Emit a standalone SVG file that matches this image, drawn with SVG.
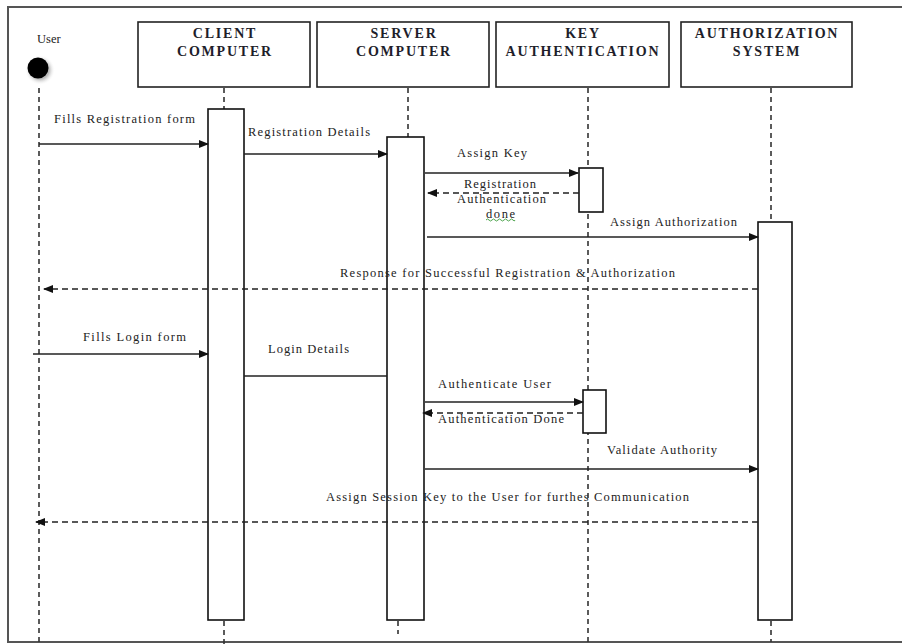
<svg xmlns="http://www.w3.org/2000/svg" width="902" height="644" viewBox="0 0 902 644">
  <defs>
    <marker id="head" markerWidth="10" markerHeight="8" refX="9" refY="4" orient="auto" markerUnits="userSpaceOnUse">
      <path d="M0,0 L10,4 L0,8 Z" fill="#111"/>
    </marker>
    <radialGradient id="halo" cx="0.5" cy="0.5" r="0.5">
      <stop offset="0.6" stop-color="#bbb"/>
      <stop offset="1" stop-color="#fff" stop-opacity="0"/>
    </radialGradient>
    <style>
      .frame { fill: none; stroke: #555; stroke-width: 2; }
      .head { fill: #fff; stroke: #222; stroke-width: 1.6; }
      .title { font-family: "Liberation Serif", "Times New Roman", serif; font-weight: bold; font-size: 14px; letter-spacing: 1.8px; fill: #1e1e2a; text-anchor: middle; }
      .label { font-family: "Liberation Serif", "Times New Roman", serif; font-size: 12.5px; fill: #222; }
      .life { stroke: #333; stroke-width: 1.6; stroke-dasharray: 5 4; fill: none; }
      .act { fill: #fff; stroke: #111; stroke-width: 1.6; }
      .call { stroke: #222; stroke-width: 1.4; fill: none; }
      .reply { stroke: #222; stroke-width: 1.4; stroke-dasharray: 6 4; fill: none; }
    </style>
  </defs>

  <rect width="902" height="644" fill="#fff"/>
  <!-- outer frame -->
  <path class="frame" d="M904,7 H8 V642 H904"/>

  <!-- lifelines -->
  <g id="lifelines">
    <line class="life" x1="39" y1="88" x2="39" y2="642"/>
    <line class="life" x1="224" y1="88" x2="224" y2="109"/>
    <line class="life" x1="224" y1="621" x2="224" y2="644"/>
    <line class="life" x1="408" y1="88" x2="408" y2="137"/>
    <line class="life" x1="398" y1="621" x2="398" y2="634"/>
    <line class="life" x1="588" y1="88" x2="588" y2="642"/>
    <line class="life" x1="771" y1="88" x2="771" y2="222"/>
    <line class="life" x1="771" y1="621" x2="771" y2="642"/>
  </g>

  <!-- actor: User -->
  <g id="user">
    <text class="label" x="37" y="43" font-size="11.5">User</text>
    <circle cx="40" cy="70" r="15" fill="url(#halo)"/>
    <circle cx="38" cy="68" r="10.5" fill="#000"/>
  </g>

  <g id="client-computer">
    <rect class="head" x="138" y="22" width="172" height="65"/>
    <text class="title" x="225" y="38">CLIENT</text>
    <text class="title" x="225" y="56">COMPUTER</text>
    <rect class="act" x="208" y="109" width="36" height="511"/>
  </g>

  <g id="server-computer">
    <rect class="head" x="317" y="22" width="172" height="65"/>
    <text class="title" x="404" y="38">SERVER</text>
    <text class="title" x="404" y="56">COMPUTER</text>
    <rect class="act" x="387" y="137" width="37" height="483"/>
  </g>

  <g id="key-authentication">
    <rect class="head" x="496" y="22" width="173" height="65"/>
    <text class="title" x="583" y="38">KEY</text>
    <text class="title" x="583" y="56">AUTHENTICATION</text>
    <rect class="act" x="579" y="168" width="24" height="44"/>
    <rect class="act" x="583" y="390" width="23" height="43"/>
  </g>

  <g id="authorization-system">
    <rect class="head" x="681" y="22" width="171" height="65"/>
    <text class="title" x="767" y="38">AUTHORIZATION</text>
    <text class="title" x="767" y="56">SYSTEM</text>
    <rect class="act" x="758" y="222" width="34" height="398"/>
  </g>

  <!-- messages -->
  <g id="connectors">
    <line class="call" x1="39" y1="144" x2="208" y2="144" marker-end="url(#head)"/>
    <line class="call" x1="244" y1="154" x2="387" y2="154" marker-end="url(#head)"/>
    <line class="call" x1="425" y1="173" x2="578" y2="173" marker-end="url(#head)"/>
    <line class="reply" x1="579" y1="193" x2="428" y2="193" marker-end="url(#head)"/>
    <line class="call" x1="427" y1="237" x2="758" y2="237" marker-end="url(#head)"/>
    <line class="reply" x1="758" y1="289" x2="44" y2="289" marker-end="url(#head)"/>
    <line class="call" x1="33" y1="354" x2="208" y2="354" marker-end="url(#head)"/>
    <line class="call" x1="244" y1="376" x2="387" y2="376"/>
    <line class="call" x1="425" y1="402" x2="583" y2="402" marker-end="url(#head)"/>
    <line class="reply" x1="583" y1="413" x2="423" y2="413" marker-end="url(#head)"/>
    <line class="call" x1="425" y1="469" x2="758" y2="469" marker-end="url(#head)"/>
    <line class="reply" x1="758" y1="522" x2="36" y2="522" marker-end="url(#head)"/>
  </g>

  <!-- message labels -->
  <g id="labels">
    <text class="label" x="54" y="123" textLength="141" lengthAdjust="spacing">Fills Registration form</text>
    <text class="label" x="248" y="136" textLength="122" lengthAdjust="spacing">Registration Details</text>
    <text class="label" x="457" y="157" textLength="70" lengthAdjust="spacing">Assign Key</text>
    <text class="label" x="464" y="188" textLength="72" lengthAdjust="spacing">Registration</text>
    <text class="label" x="457" y="203" textLength="89" lengthAdjust="spacing">Authentication</text>
    <text class="label" x="486" y="218" textLength="29" lengthAdjust="spacing">done</text>
    <path d="M486,220 q1.5,-2 3,0 t3,0 t3,0 t3,0 t3,0 t3,0 t3,0 t3,0 t3,0 t2,0" fill="none" stroke="#3a9a3a" stroke-width="0.9"/>
    <text class="label" x="610" y="226" textLength="127" lengthAdjust="spacing">Assign Authorization</text>
    <text class="label" x="340" y="277" textLength="335" lengthAdjust="spacing">Response for Successful Registration &amp; Authorization</text>
    <text class="label" x="83" y="341" textLength="103" lengthAdjust="spacing">Fills Login form</text>
    <text class="label" x="268" y="353" textLength="81" lengthAdjust="spacing">Login Details</text>
    <text class="label" x="438" y="388" textLength="113" lengthAdjust="spacing">Authenticate User</text>
    <text class="label" x="438" y="423" textLength="126" lengthAdjust="spacing">Authentication Done</text>
    <text class="label" x="607" y="454" textLength="110" lengthAdjust="spacing">Validate Authority</text>
    <text class="label" x="326" y="501" textLength="363" lengthAdjust="spacing">Assign Session Key to the User for furthes Communication</text>
  </g>
</svg>
